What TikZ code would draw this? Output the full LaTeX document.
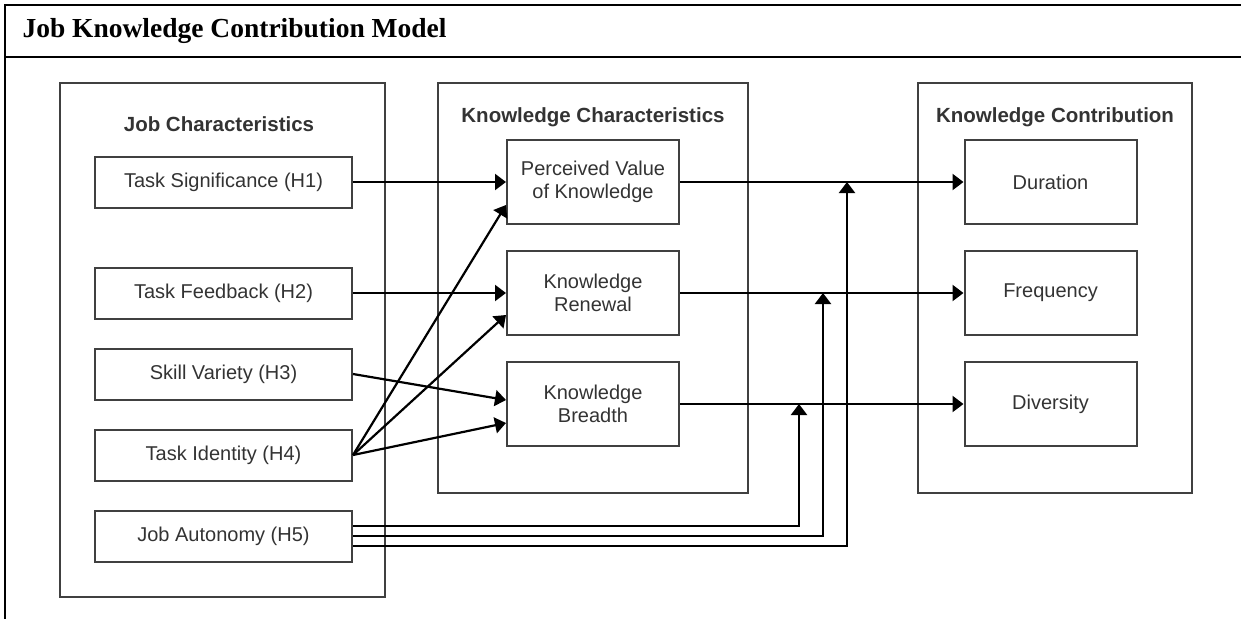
\documentclass[tikz,border=0pt]{standalone}
\usepackage{fontspec}
\setmainfont{Liberation Serif}
\setsansfont{Liberation Sans}
\usetikzlibrary{arrows.meta}
\definecolor{boxgray}{HTML}{404040}
\definecolor{textgray}{HTML}{333333}
\tikzset{
	group/.style={draw=boxgray, line width=2pt, inner sep=0pt},
	header/.style={font=\sffamily\bfseries\fontsize{20.5}{24}\selectfont, text=textgray},
	factor/.style={draw=boxgray, line width=2pt, minimum width=257pt, minimum height=51pt, inner sep=0pt,
		font=\sffamily\fontsize{20}{23}\selectfont, text=textgray, align=center},
	kbox/.style={factor, minimum width=172pt, minimum height=84pt},
	link/.style={->, line width=2.2pt}
}

\begin{document}
\begin{tikzpicture}[x=1pt,y=-1pt,>={Triangle[length=11pt,width=16pt]}]
		\useasboundingbox (0,0) rectangle (1241,619);
		\draw[line width=2.4pt] (1241,5) -- (5,5) -- (5,619);
		\draw[line width=2.4pt] (5,57) -- (1241,57);
		\node[anchor=west, font=\bfseries\fontsize{27.5}{30}\selectfont] (title) at (19,31) {Job Knowledge Contribution Model};
		\node[group, minimum width=325pt, minimum height=514pt] (jobbox) at (222.5,340) {};
		\node[group, minimum width=310pt, minimum height=410pt] (kcharbox) at (593,288) {};
		\node[group, minimum width=274pt, minimum height=410pt] (kcontbox) at (1055,288) {};
		\node[header] (jobhead) at (219,124) {Job Characteristics};
		\node[header] (kcharhead) at (593,117) {Knowledge Characteristics};
		\node[header] (kconthead) at (1055,117) {Knowledge Contribution};
		\node[factor] (h1) at (223.5,182) {Task Significance (H1)};
		\node[factor] (h2) at (223.5,293) {Task Feedback (H2)};
		\node[factor] (h3) at (223.5,374) {Skill Variety (H3)};
		\node[factor] (h4) at (223.5,455) {Task Identity (H4)};
		\node[factor] (h5) at (223.5,536) {Job Autonomy (H5)};
		\node[kbox] (pv) at (593,182) {Perceived Value\\of Knowledge};
		\node[kbox] (kr) at (593,293) {Knowledge\\Renewal};
		\node[kbox] (kb) at (593,404) {Knowledge\\Breadth};
		\node[kbox] (dur) at (1050.5,182) {Duration};
		\node[kbox] (freq) at (1050.5,293) {Frequency};
		\node[kbox] (div) at (1050.5,404) {Diversity};
		\coordinate (j1) at (847,182);
		\coordinate (j2) at (823,293);
		\coordinate (j3) at (799,404);
		\draw[link] (h1.east) -- (pv.west);
		\draw[link] (h2.east) -- (kr.west);
		\draw[link] (h3.east) -- ([yshift=4pt]kb.west);
		\draw[link] (h4.east) -- ([yshift=-23pt]pv.west);
		\draw[link] (h4.east) -- ([yshift=-22pt]kr.west);
		\draw[link] (h4.east) -- ([yshift=-19pt]kb.west);
		\draw[link] (pv.east) -- (dur.west);
		\draw[link] (kr.east) -- (freq.west);
		\draw[link] (kb.east) -- (div.west);
		\draw[link] ([yshift=10pt]h5.east) -| (j3);
		\draw[link] (h5.east) -| (j2);
		\draw[link] ([yshift=-10pt]h5.east) -| (j1);
		\end{tikzpicture}
\end{document}
